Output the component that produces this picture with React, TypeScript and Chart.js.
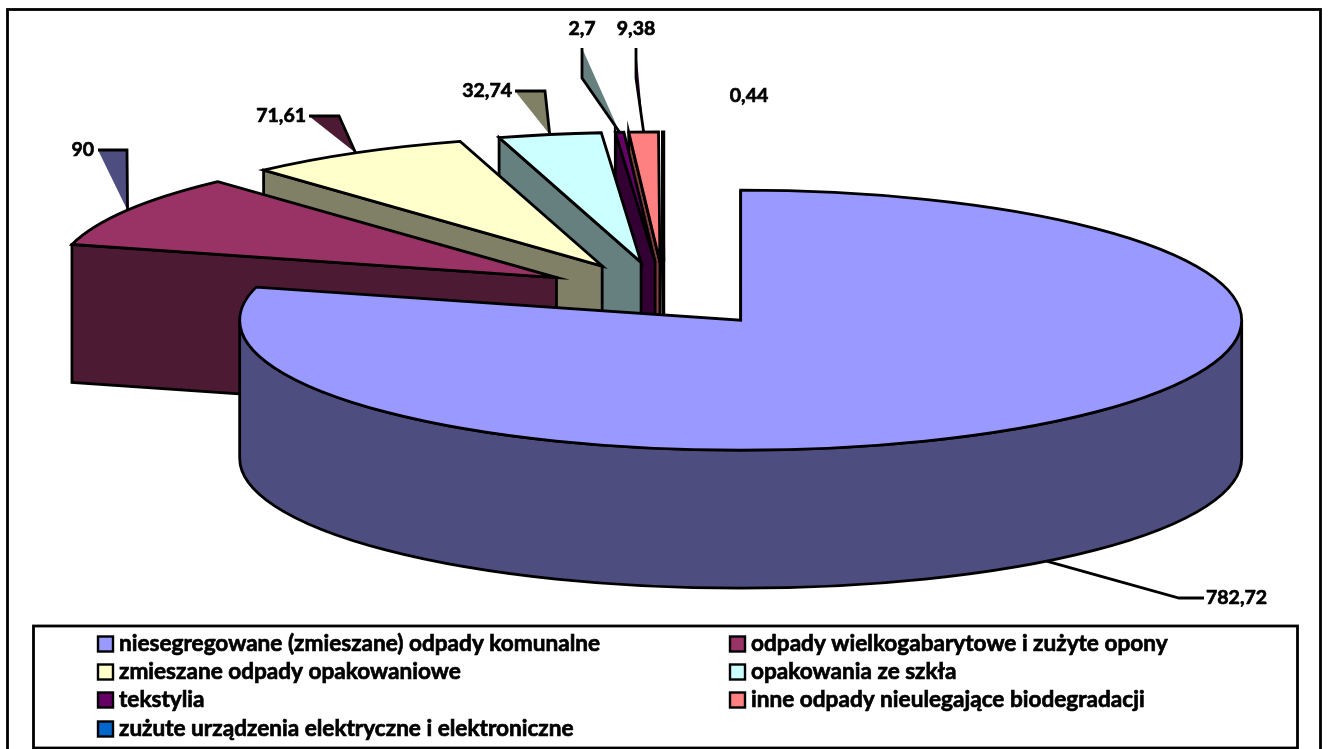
import React, { useEffect, useRef } from "react";
import { Chart, registerables } from "chart.js";

Chart.register(...registerables);

const categories = [
  "niesegregowane (zmieszane) odpady komunalne",
  "odpady wielkogabarytowe i zużyte opony",
  "zmieszane odpady opakowaniowe",
  "opakowania ze szkła",
  "tekstylia",
  "inne odpady nieulegające biodegradacji",
  "zużute urządzenia elektryczne i elektroniczne",
];
const values = [782.72, 90, 71.61, 32.74, 2.7, 9.38, 0.44];
const valueLabels = ["782,72", "90", "71,61", "32,74", "2,7", "9,38", "0,44"];
const topColors = ["#9999FF", "#993366", "#FFFFCC", "#CCFFFF", "#660066", "#FF8080", "#0066CC"];
const wallColors = ["#4D4D80", "#4D1A33", "#808066", "#668080", "#330033", "#804040", "#003366"];
const leaderFill = [null, "#4D4D80", "#4D1A33", "#808066", "#668080", "#330033", null];

const W = 1328;
const H = 749;
const RADIUS = 501;
const SQUASH = 0.2595;
const EXPLODE = 125.6;
const DEPTH = 138;
const CX = 664.8;
const CY = 294.4;
const LABEL_FONT = "bold 19.5px Lato";
const LEGEND_FONT = "bold 22.6px Lato";
const STROKE = 2.8;

const labelLayout: any[] = [
  { x: 1206, y: 598, align: "left", elbow: [[1179, 598], [1204, 598]] },
  { x: 94, y: 150, align: "right", elbow: [[127, 150], [98, 150]] },
  { x: 306, y: 116, align: "right", elbow: [[339, 116], [309, 116]] },
  { x: 512, y: 91, align: "right", elbow: [[545, 91], [515, 91]] },
  { x: 582, y: 29, align: "center", elbow: [[582, 78], [582, 48]] },
  { x: 636, y: 29, align: "center", elbow: [[636, 78], [636, 48]] },
  { x: 749, y: 96, align: "center", elbow: null },
];

const boldText = (ctx: CanvasRenderingContext2D, t: string, x: number, y: number) => {
  ctx.lineWidth = 0.7;
  ctx.strokeText(t, x, y);
  ctx.fillText(t, x, y);
};

const pie3d = {
  id: "pie3d",
  beforeDatasetsDraw(chart: any) {
    const ctx: CanvasRenderingContext2D = chart.ctx;
    const arcs = chart.getDatasetMeta(0).data;
    ctx.save();
    ctx.fillStyle = "#fff";
    ctx.fillRect(0, 0, W, H);
    ctx.lineJoin = "miter";
    ctx.lineWidth = STROKE;
    ctx.strokeStyle = "#000";

    ctx.strokeRect(7.5, 9.5, 1313, 760);

    const info = arcs.map((arc: any, i: number) => {
      const { x, y, startAngle, endAngle, outerRadius } = arc.getProps(["x", "y", "startAngle", "endAngle", "outerRadius"], true);
      const mid = (startAngle + endAngle) / 2;
      const tx = x + EXPLODE * Math.cos(mid);
      const ty = y + EXPLODE * SQUASH * Math.sin(mid);
      return { i, start: startAngle, end: endAngle, mid, tx, ty, r: outerRadius, ry: outerRadius * SQUASH, top: arc.options.backgroundColor };
    });

    const paint = (fill: string) => {
      ctx.fillStyle = fill;
      ctx.fill();
      ctx.stroke();
    };

    for (let n = info.length - 1; n >= 0; n--) {
      const s = info[n];
      const wall = wallColors[s.i];
      const px = (a: number) => s.tx + s.r * Math.cos(a);
      const py = (a: number) => s.ty + s.ry * Math.sin(a);
      const cut = (a: number) => {
        ctx.beginPath();
        ctx.moveTo(px(a), py(a));
        ctx.lineTo(s.tx, s.ty);
        ctx.lineTo(s.tx, s.ty + DEPTH);
        ctx.lineTo(px(a), py(a) + DEPTH);
        ctx.closePath();
        paint(wall);
      };
      if (Math.sin(s.start) < -0.001) cut(s.start);
      if (Math.sin(s.end) > 0.001) cut(s.end);
      const a = Math.max(s.start, 0);
      const b = Math.min(s.end, Math.PI);
      if (a < b) {
        ctx.beginPath();
        ctx.ellipse(s.tx, s.ty, s.r, s.ry, 0, a, b);
        ctx.ellipse(s.tx, s.ty + DEPTH, s.r, s.ry, 0, b, a, true);
        ctx.closePath();
        paint(wall);
      }
      ctx.beginPath();
      ctx.moveTo(s.tx, s.ty);
      ctx.ellipse(s.tx, s.ty, s.r, s.ry, 0, s.start, s.end);
      ctx.closePath();
      paint(s.top);
    }

    ctx.font = LABEL_FONT;
    info.forEach((s: any) => {
      const lay = labelLayout[s.i];
      if (lay.elbow) {
        const ax = s.tx + s.r * Math.cos(s.mid);
        const front = Math.sin(s.mid) > 0;
        const ay = s.ty + s.ry * Math.sin(s.mid) + (front ? DEPTH : 0);
        ctx.lineWidth = STROKE;
        ctx.beginPath();
        ctx.moveTo(ax, ay);
        lay.elbow.forEach((p: number[]) => ctx.lineTo(p[0], p[1]));
        const f = leaderFill[s.i];
        if (f) {
          ctx.fillStyle = f;
          ctx.fill();
        }
        ctx.stroke();
      }
      ctx.fillStyle = "#000";
      ctx.textAlign = lay.align;
      ctx.textBaseline = "middle";
      boldText(ctx, valueLabels[s.i], lay.x, lay.y);
    });

    ctx.lineWidth = STROKE;
    ctx.strokeRect(33.5, 626, 1264, 122);
    const rowY = [644, 672, 700, 729];
    const colX = [98, 730];
    ctx.font = LEGEND_FONT;
    ctx.textAlign = "left";
    categories.forEach((c, i) => {
      const col = i % 2;
      const y = rowY[Math.floor(i / 2)];
      ctx.fillStyle = topColors[i];
      ctx.lineWidth = 2.4;
      ctx.fillRect(colX[col], y - 7.5, 15, 15);
      ctx.strokeRect(colX[col], y - 7.5, 15, 15);
      ctx.fillStyle = "#000";
      boldText(ctx, c, colX[col] + 21, y);
    });
    ctx.restore();
    return false;
  },
};

export default function App() {
  const ref = useRef<HTMLCanvasElement>(null);
  useEffect(() => {
    const chart = new Chart(ref.current as HTMLCanvasElement, {
      type: "pie",
      data: {
        labels: categories,
        datasets: [{ data: values, backgroundColor: topColors, borderWidth: 0, radius: RADIUS } as any],
      },
      options: {
        animation: false,
        responsive: false,
        devicePixelRatio: 1,
        radius: RADIUS,
        layout: { padding: { left: 0, top: 0, right: W - 2 * CX, bottom: H - 2 * CY } },
        plugins: { legend: { display: false }, tooltip: { enabled: false }, title: { display: false } },
      } as any,
      plugins: [pie3d],
    });
    return () => chart.destroy();
  }, []);
  return (
    <div style={{ position: "absolute", left: 0, top: 0, width: W, height: H, overflow: "hidden" }}>
      <canvas ref={ref} width={W} height={H} style={{ display: "block" }} />
    </div>
  );
}
